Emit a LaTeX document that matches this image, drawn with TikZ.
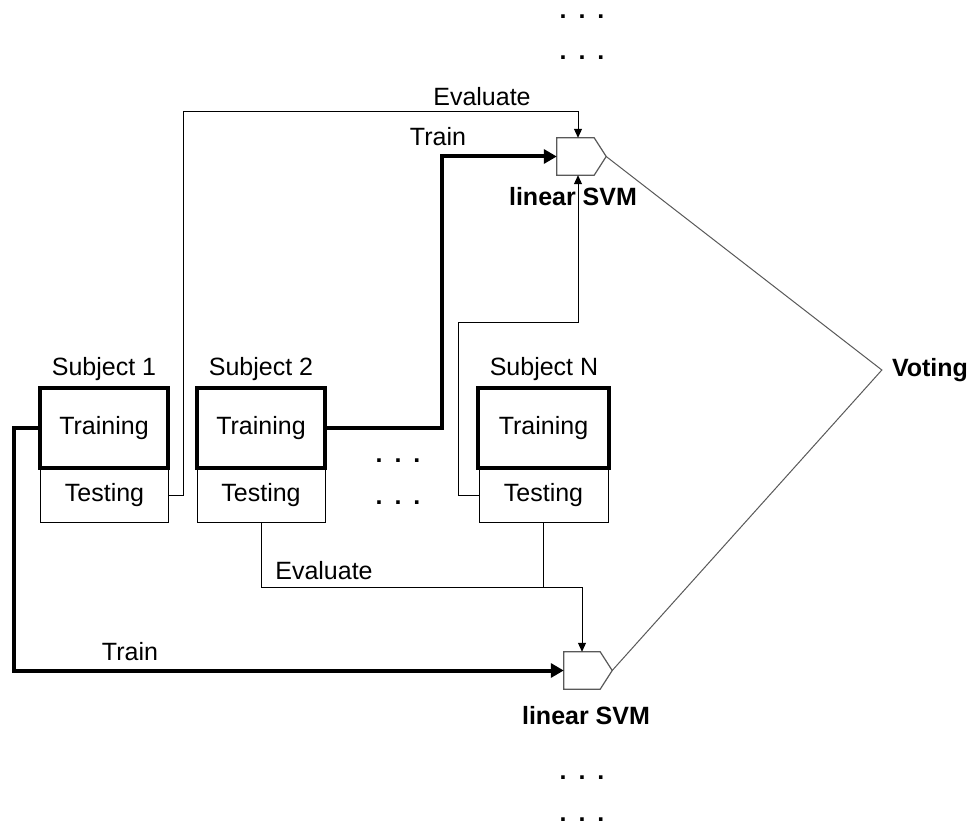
\documentclass[tikz,border=0pt]{standalone}
\usepackage{fontspec}
\setmainfont{Liberation Sans}
\usetikzlibrary{arrows.meta,calc}
\begin{document}
\begin{tikzpicture}[x=1pt,y=-1pt,
  every node/.style={font=\fontsize{25}{30}\selectfont, inner sep=0pt},
  trainbox/.style={draw, line width=4pt, minimum width=128pt, minimum height=80pt},
  testbox/.style={draw, line width=0.8pt, minimum width=128pt, minimum height=54pt},
  svmbox/.style={minimum width=37pt, minimum height=37pt},
  svmedge/.style={draw=black!65, line width=1.2pt, line join=miter},
  evalline/.style={line width=1pt, -{Triangle[length=9pt,width=8pt]}},
  trainline/.style={line width=4pt, -{Triangle[length=13pt,width=14pt]}},
  voteline/.style={draw=black!65, line width=1pt},
  boldlabel/.style={font=\fontsize{25}{30}\selectfont\bfseries},
  dotrow/.style={font=\fontsize{25}{30}\selectfont\bfseries, anchor=base}
]
\fill[white] (0,0) rectangle (974,826);
\useasboundingbox (0,0) rectangle (974,826);

% subjects: testing part first, training part drawn over it
\node[testbox] (ts1) at (104.5,495) {Testing};
\node[testbox] (ts2) at (261,495) {Testing};
\node[testbox, minimum width=129pt] (tsN) at (543.5,495) {Testing};
\node[trainbox] (tr1) at (104,428) {Training};
\node[trainbox] (tr2) at (261,428) {Training};
\node[trainbox, minimum width=131pt] (trN) at (543.5,428) {Training};
\node (s1) at (104,369) {Subject 1};
\node (s2) at (261,369) {Subject 2};
\node (sN) at (544,369) {Subject N};

% classifiers
\node[svmbox] (svmT) at (575.5,156.5) {};
\coordinate (tipT) at ($(svmT.east)+(12,0)$);
\draw[svmedge] (svmT.south west) -- (svmT.north west) -- (svmT.north east)
  -- (tipT) -- (svmT.south east) -- cycle;
\node[boldlabel] (lsT) at (573,197) {linear SVM};

\node[svmbox, minimum width=36pt] (svmB) at (582,670.5) {};
\coordinate (tipB) at ($(svmB.east)+(12,0)$);
\draw[svmedge] (svmB.south west) -- (svmB.north west) -- (svmB.north east)
  -- (tipB) -- (svmB.south east) -- cycle;
\node[boldlabel] (lsB) at (586,716) {linear SVM};

% voting
\node[boldlabel] (vote) at (930,370) {Voting};
\draw[voteline] (tipT) -- ([xshift=-10pt]vote.west) -- (tipB);

% training connections
\draw[trainline] (tr2.east) -- (442,428) |- (svmT.west);
\node (trT) at (438,137) {Train};
\draw[trainline] (tr1.west) -- (14,428) |- (svmB.west);
\node (trB) at (130,652) {Train};

% evaluation connections
\draw[evalline] (ts1.east) -- (183,495) -- (183,112) -| ([xshift=2.5pt]svmT.north);
\node (evT) at (482,97) {Evaluate};
\draw[evalline] (tsN.west) -- (458,495) -- (458,322) -| ([xshift=2.5pt]svmT.south);
\draw[evalline] (ts2.south) -- (261,587) -| (svmB.north);
\draw[line width=1pt] (tsN.south) -- (tsN.south |- 0,587);
\node (evB) at (324,571) {Evaluate};

% continuation marks
\node[dotrow] (d1) at (582,19) {.\hspace{12pt}.\hspace{12pt}.};
\node[dotrow] (d2) at (582,60) {.\hspace{12pt}.\hspace{12pt}.};
\node[dotrow] (d3) at (398,462) {.\hspace{12pt}.\hspace{12pt}.};
\node[dotrow] (d4) at (398,504) {.\hspace{12pt}.\hspace{12pt}.};
\node[dotrow] (d5) at (582,779) {.\hspace{12pt}.\hspace{12pt}.};
\node[dotrow] (d6) at (582,821) {.\hspace{12pt}.\hspace{12pt}.};
\end{tikzpicture}
\end{document}
